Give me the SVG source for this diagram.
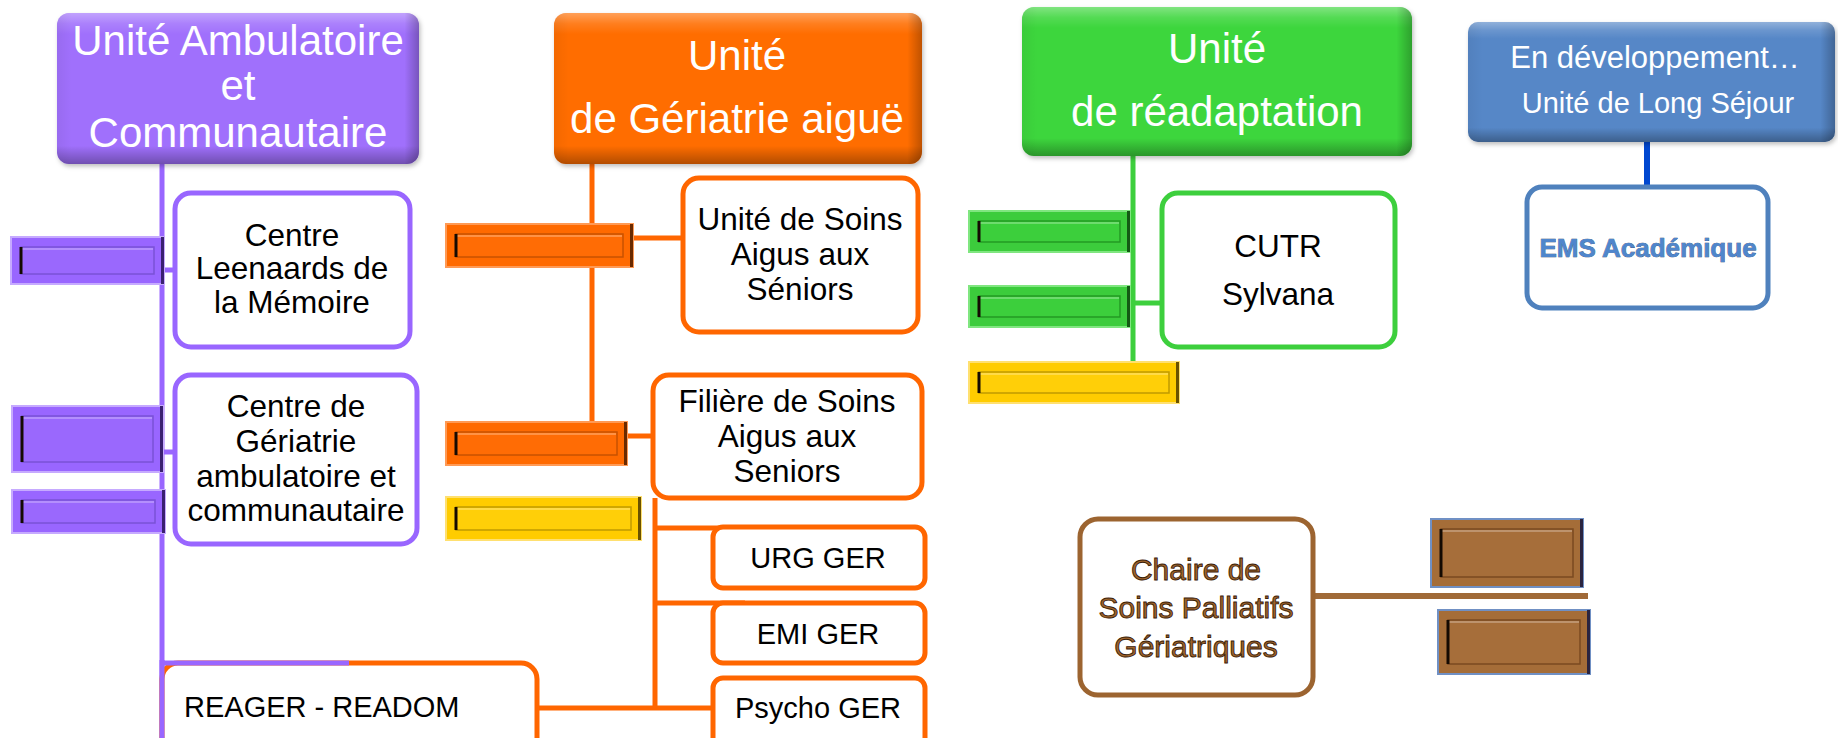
<svg xmlns="http://www.w3.org/2000/svg" width="1838" height="738" viewBox="0 0 1838 738">
<defs>
<linearGradient id="gloss" x1="0" y1="0" x2="0" y2="1">
<stop offset="0" stop-color="#fff" stop-opacity="0.35"/>
<stop offset="0.07" stop-color="#fff" stop-opacity="0.12"/>
<stop offset="0.14" stop-color="#fff" stop-opacity="0"/>
<stop offset="0.88" stop-color="#000" stop-opacity="0"/>
<stop offset="1" stop-color="#000" stop-opacity="0.3"/>
</linearGradient>
<linearGradient id="side" x1="0" y1="0" x2="1" y2="0">
<stop offset="0" stop-color="#000" stop-opacity="0.05"/>
<stop offset="0.04" stop-color="#000" stop-opacity="0"/>
<stop offset="0.96" stop-color="#000" stop-opacity="0"/>
<stop offset="1" stop-color="#000" stop-opacity="0.25"/>
</linearGradient>
<filter id="sh" x="-5%" y="-5%" width="112%" height="115%">
<feDropShadow dx="1.5" dy="2.5" stdDeviation="2" flood-color="#000" flood-opacity="0.25"/>
</filter>
</defs>
<style>
text{font-family:"Liberation Sans",Arial,sans-serif}
.ht{fill:#fff;font-size:42px;text-anchor:middle}
.bt{fill:#000;font-size:31.5px;text-anchor:middle}
.st{fill:#000;font-size:29px;text-anchor:middle}
.box{fill:#fff;stroke-width:5}
.pu{stroke:#9966ff}
.or{stroke:#ff6600}
.gr{stroke:#3dcf3d}
.bl{stroke:#4f81bd}
.br{stroke:#9c6430}
.ln{fill:none;stroke-width:5}
.bar .o{stroke-width:2}
.bar .i{stroke-width:1.5}
.bar .hl{fill:none;stroke:#fff;stroke-opacity:0.35;stroke-width:1.5}
.bar .s{stroke:#140a02;stroke-width:3}
.bar .e{stroke-width:3}
.bp .o{fill:#9966ff;stroke:#c6aaff}.bp .i{fill:#9a68fd;stroke:#7a52d6}.bp .e{stroke:#3a2070}
.bo .o{fill:#ff6a00;stroke:#ff9a55}.bo .i{fill:#ff6c05;stroke:#c85200}.bo .e{stroke:#6a2a00}
.by .o{fill:#ffcc00;stroke:#ffe070}.by .i{fill:#ffcf08;stroke:#c09a00}.by .e{stroke:#6a5200}
.bg .o{fill:#3ccc3c;stroke:#80e680}.bg .i{fill:#3ccf3c;stroke:#239a23}.bg .e{stroke:#145a14}
.bb .o{fill:#a56d38;stroke:#7090c4}.bb .i{fill:#a66e3a;stroke:#7a4a20}.bb .e{stroke:#2a2440}
.out{stroke-width:0.9}
.outb{stroke-width:0.6;paint-order:stroke fill}
</style>

<!-- connectors -->
<g id="connectors">
<path class="ln pu" d="M162 164 V738 M164 270 H176 M164 452 H176"/>
<path class="ln or" d="M592 164 V422 M633 238 H683 M627 436 H653 M655 498 V708 M655 528 H730 M655 603 H745 M537 708 H713"/>
<path class="ln gr" d="M1133 156 V362 M1133 303 H1162"/>
<path fill="none" stroke="#0047d0" stroke-width="6" d="M1647 142 V187"/>
<path fill="none" stroke="#a06a38" stroke-width="6" d="M1305 596 H1588"/>
</g>

<!-- headers -->
<g id="hdr-ambulatoire">
<rect x="57" y="13" width="362" height="151" rx="12" fill="#a070fc" filter="url(#sh)"/>
<rect x="57" y="13" width="362" height="151" rx="12" fill="url(#gloss)"/>
<rect x="57" y="13" width="362" height="151" rx="12" fill="url(#side)"/>
<text class="ht" x="238" y="55">Unité Ambulatoire</text>
<text class="ht" x="238" y="100">et</text>
<text class="ht" x="238" y="147">Communautaire</text>
</g>
<g id="hdr-aigue">
<rect x="554" y="13" width="368" height="151" rx="12" fill="#ff6d00" filter="url(#sh)"/>
<rect x="554" y="13" width="368" height="151" rx="12" fill="url(#gloss)"/>
<rect x="554" y="13" width="368" height="151" rx="12" fill="url(#side)"/>
<text class="ht" x="737" y="70">Unité</text>
<text class="ht" x="737" y="133">de Gériatrie aiguë</text>
</g>
<g id="hdr-readaptation">
<rect x="1022" y="7" width="390" height="149" rx="12" fill="#3dd63d" filter="url(#sh)"/>
<rect x="1022" y="7" width="390" height="149" rx="12" fill="url(#gloss)"/>
<rect x="1022" y="7" width="390" height="149" rx="12" fill="url(#side)"/>
<text class="ht" x="1217" y="63">Unité</text>
<text class="ht" x="1217" y="126">de réadaptation</text>
</g>
<g id="hdr-longsejour">
<rect x="1468" y="22" width="367" height="120" rx="10" fill="#5687c7" filter="url(#sh)"/>
<rect x="1468" y="22" width="367" height="120" rx="10" fill="url(#gloss)"/>
<rect x="1468" y="22" width="367" height="120" rx="10" fill="url(#side)"/>
<text x="1655" y="68" fill="#fff" font-size="31" text-anchor="middle">En développement…</text>
<text x="1658" y="113" fill="#fff" font-size="29" text-anchor="middle">Unité de Long Séjour</text>
</g>

<!-- boxes -->
<g id="n-leenaards">
<rect class="box pu" x="175" y="193" width="235" height="154" rx="16"/>
<text class="bt" x="292" y="246">Centre</text>
<text class="bt" x="292" y="279">Leenaards de</text>
<text class="bt" x="292" y="313">la Mémoire</text>
</g>
<g id="n-cgac">
<rect class="box pu" x="175" y="375" width="242" height="169" rx="16"/>
<text class="bt" x="296" y="417">Centre de</text>
<text class="bt" x="296" y="452">Gériatrie</text>
<text class="bt" x="296" y="487">ambulatoire et</text>
<text class="bt" x="296" y="521">communautaire</text>
</g>
<g id="n-reager">
<rect class="box or" x="162" y="663" width="375" height="110" rx="16"/>
<path class="ln pu" d="M162 663 H349 M162 660 V738"/>
<text class="st" x="184" y="717" style="text-anchor:start">REAGER - READOM</text>
</g>
<g id="n-usas">
<rect class="box or" x="683" y="178" width="235" height="154" rx="16"/>
<text class="bt" x="800" y="230">Unité de Soins</text>
<text class="bt" x="800" y="265">Aigus aux</text>
<text class="bt" x="800" y="300">Séniors</text>
</g>
<g id="n-filiere">
<rect class="box or" x="653" y="375" width="269" height="123" rx="16"/>
<text class="bt" x="787" y="412">Filière de Soins</text>
<text class="bt" x="787" y="447">Aigus aux</text>
<text class="bt" x="787" y="482">Seniors</text>
</g>
<g id="n-urg">
<rect class="box or" x="713" y="527" width="212" height="61" rx="10"/>
<text class="st" x="818" y="568">URG GER</text>
</g>
<g id="n-emi">
<rect class="box or" x="713" y="603" width="212" height="60" rx="10"/>
<text class="st" x="818" y="644">EMI GER</text>
</g>
<g id="n-psycho">
<rect class="box or" x="713" y="678" width="212" height="90" rx="10"/>
<text class="st" x="818" y="718">Psycho GER</text>
</g>
<g id="n-cutr">
<rect class="box gr" x="1162" y="193" width="233" height="154" rx="16"/>
<text class="bt" x="1278" y="257" font-size="31">CUTR</text>
<text class="bt" x="1278" y="305" font-size="31">Sylvana</text>
</g>
<g id="n-ems">
<rect class="box bl" x="1527" y="187" width="241" height="121" rx="15"/>
<text class="outb" x="1648" y="257" font-size="26" font-weight="bold" text-anchor="middle" fill="#4f86cc" stroke="#233a6a">EMS Académique</text>
</g>
<g id="n-chaire">
<rect class="box br" x="1080" y="519" width="233" height="176" rx="18"/>
<text class="out" x="1196" y="580" font-size="30" text-anchor="middle" fill="#a0652c" stroke="#3a2008">Chaire de</text>
<text class="out" x="1196" y="618" font-size="30" text-anchor="middle" fill="#a0652c" stroke="#3a2008">Soins Palliatifs</text>
<text class="out" x="1196" y="657" font-size="30" text-anchor="middle" fill="#a0652c" stroke="#3a2008">Gériatriques</text>
</g>

<!-- bevel bars -->
<g id="bar-p1" class="bar bp"><rect class="o" x="11" y="237" width="153" height="47"/><rect class="i" x="21" y="247" width="133" height="27"/><path class="hl" d="M22 249 H153"/><path class="s" d="M21 247 V274"/><path class="e" d="M162.5 237 V284"/></g>
<g id="bar-p2" class="bar bp"><rect class="o" x="12" y="406" width="151" height="66"/><rect class="i" x="22" y="416" width="131" height="46"/><path class="hl" d="M23 418 H152"/><path class="s" d="M22 416 V462"/><path class="e" d="M161.5 406 V472"/></g>
<g id="bar-p3" class="bar bp"><rect class="o" x="12" y="490" width="153" height="43"/><rect class="i" x="22" y="500" width="133" height="23"/><path class="hl" d="M23 502 H154"/><path class="s" d="M22 500 V523"/><path class="e" d="M163.5 490 V533"/></g>
<g id="bar-o1" class="bar bo"><rect class="o" x="446" y="224" width="187" height="43"/><rect class="i" x="456" y="234" width="167" height="23"/><path class="hl" d="M457 236 H622"/><path class="s" d="M456 234 V257"/><path class="e" d="M631.5 224 V267"/></g>
<g id="bar-o2" class="bar bo"><rect class="o" x="446" y="422" width="181" height="43"/><rect class="i" x="456" y="432" width="161" height="23"/><path class="hl" d="M457 434 H616"/><path class="s" d="M456 432 V455"/><path class="e" d="M625.5 422 V465"/></g>
<g id="bar-y1" class="bar by"><rect class="o" x="446" y="497" width="195" height="43"/><rect class="i" x="456" y="507" width="175" height="23"/><path class="hl" d="M457 509 H630"/><path class="s" d="M456 507 V530"/><path class="e" d="M639.5 497 V540"/></g>
<g id="bar-g1" class="bar bg"><rect class="o" x="969" y="211" width="161" height="41"/><rect class="i" x="979" y="221" width="141" height="21"/><path class="hl" d="M980 223 H1119"/><path class="s" d="M979 221 V242"/><path class="e" d="M1128.5 211 V252"/></g>
<g id="bar-g2" class="bar bg"><rect class="o" x="969" y="286" width="161" height="41"/><rect class="i" x="979" y="296" width="141" height="21"/><path class="hl" d="M980 298 H1119"/><path class="s" d="M979 296 V317"/><path class="e" d="M1128.5 286 V327"/></g>
<g id="bar-y2" class="bar by"><rect class="o" x="969" y="362" width="210" height="41"/><rect class="i" x="979" y="372" width="190" height="21"/><path class="hl" d="M980 374 H1168"/><path class="s" d="M979 372 V393"/><path class="e" d="M1177.5 362 V403"/></g>
<g id="bar-b1" class="bar bb"><rect class="o" x="1431" y="519" width="152" height="68"/><rect class="i" x="1441" y="529" width="132" height="48"/><path class="hl" d="M1442 531 H1572"/><path class="s" d="M1441 529 V577"/><path class="e" d="M1581.5 519 V587"/></g>
<g id="bar-b2" class="bar bb"><rect class="o" x="1438" y="610" width="152" height="64"/><rect class="i" x="1448" y="620" width="132" height="44"/><path class="hl" d="M1449 622 H1579"/><path class="s" d="M1448 620 V664"/><path class="e" d="M1588.5 610 V674"/></g>
</svg>
